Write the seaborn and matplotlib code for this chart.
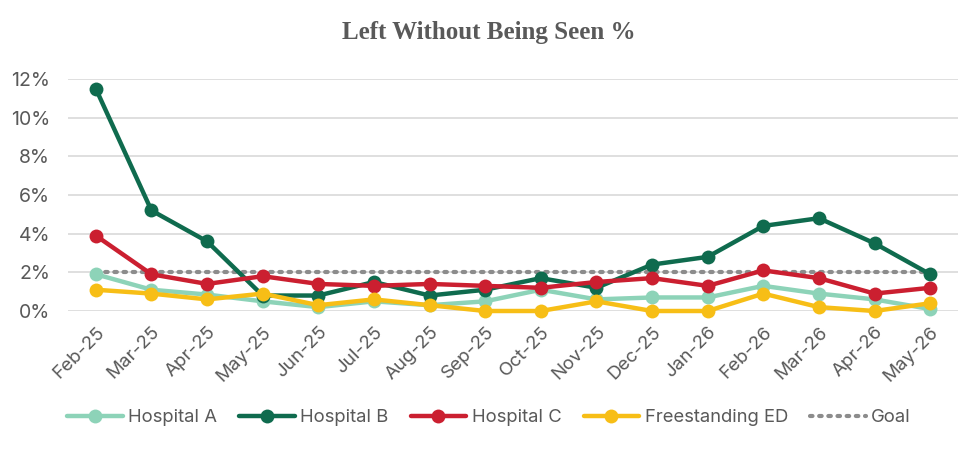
import numpy as np
import pandas as pd
import matplotlib
matplotlib.use("Agg")
import matplotlib.pyplot as plt
import seaborn as sns
from matplotlib.lines import Line2D

months = ["Feb-25", "Mar-25", "Apr-25", "May-25", "Jun-25", "Jul-25", "Aug-25", "Sep-25",
          "Oct-25", "Nov-25", "Dec-25", "Jan-26", "Feb-26", "Mar-26", "Apr-26", "May-26"]
hospital_a = [1.9, 1.1, 0.85, 0.5, 0.2, 0.5, 0.3, 0.5, 1.1, 0.6, 0.7, 0.7, 1.3, 0.9, 0.6, 0.1]
hospital_b = [11.5, 5.2, 3.6, 0.8, 0.8, 1.5, 0.8, 1.1, 1.7, 1.2, 2.4, 2.8, 4.4, 4.8, 3.5, 1.9]
hospital_c = [3.9, 1.9, 1.4, 1.8, 1.4, 1.3, 1.4, 1.3, 1.2, 1.5, 1.7, 1.3, 2.1, 1.7, 0.9, 1.2]
freestanding = [1.1, 0.9, 0.6, 0.9, 0.3, 0.6, 0.3, 0.0, 0.0, 0.5, 0.0, 0.0, 0.9, 0.2, 0.0, 0.4]
goal = [2.0] * 16

series_names = ["Hospital A", "Hospital B", "Hospital C", "Freestanding ED"]
series_values = [hospital_a, hospital_b, hospital_c, freestanding]
colors = ["#8DD3B8", "#0F6B4E", "#CB1F30", "#F7BE16"]
yticks = [0, 2, 4, 6, 8, 10, 12]
ytick_labels = ["0%", "2%", "4%", "6%", "8%", "10%", "12%"]

rows = []
for name, vals in zip(series_names, series_values):
    for i, (m, v) in enumerate(zip(months, vals)):
        rows.append({"idx": i, "month": m, "series": name, "value": v})
df = pd.DataFrame(rows)
goal_df = pd.DataFrame({"idx": range(len(months)), "value": goal})

sns.set_theme(style="white")
plt.rcParams["font.family"] = ["Inter", "DejaVu Sans"]

fig = plt.figure(figsize=(9.78, 4.5), dpi=100)
ax = fig.add_axes([68 / 978, 1 - 311 / 450, 890 / 978, 232 / 450])

for y in yticks:
    ax.axhline(y, color="#D9D9D9", lw=1.2, zorder=0)

sns.lineplot(data=goal_df, x="idx", y="value", ax=ax, color="#8C8C8C", lw=3,
             linestyle=(0, (0.6, 1.6)), dash_capstyle="round", zorder=2, legend=False)

for name, c in zip(series_names, colors):
    sub = df[df["series"] == name]
    sns.lineplot(data=sub, x="idx", y="value", ax=ax, color=c, lw=3.2, marker="o",
                 markersize=10, markeredgewidth=0, zorder=3, legend=False, clip_on=False)

ax.set_xlim(-0.5, len(months) - 0.5)
ax.set_ylim(0, 12)
ax.set_xticks(range(len(months)))
ax.set_xticklabels(months, rotation=45, ha="right", rotation_mode="anchor",
                   fontsize=13.5, color="#595959")
ax.set_yticks(yticks)
ax.set_yticklabels(ytick_labels, fontsize=14, color="#595959")
ax.tick_params(axis="x", pad=9, length=0)
ax.tick_params(axis="y", pad=13, length=0)
ax.set_xlabel("")
ax.set_ylabel("")
for s in ax.spines.values():
    s.set_visible(False)

fig.text(0.5, 1 - 33 / 450, "Left Without Being Seen %", ha="center", va="center",
         fontsize=18, fontweight="bold", color="#595959", family="Liberation Serif")

handles = [Line2D([0], [0], color=c, lw=3.2, marker="o", markersize=10, markeredgewidth=0)
           for c in colors]
handles.append(Line2D([0], [0], color="#8C8C8C", lw=3, linestyle=(0, (0.6, 1.6)),
                      dash_capstyle="round"))
leg = fig.legend(handles, series_names + ["Goal"], loc="center", ncol=5,
                 bbox_to_anchor=(0.5, 1 - 418 / 450), frameon=False, fontsize=13.3,
                 handlelength=3, handletextpad=0.3, columnspacing=1.2)
for t in leg.get_texts():
    t.set_color("#595959")

fig.savefig("out.png", dpi=100)
